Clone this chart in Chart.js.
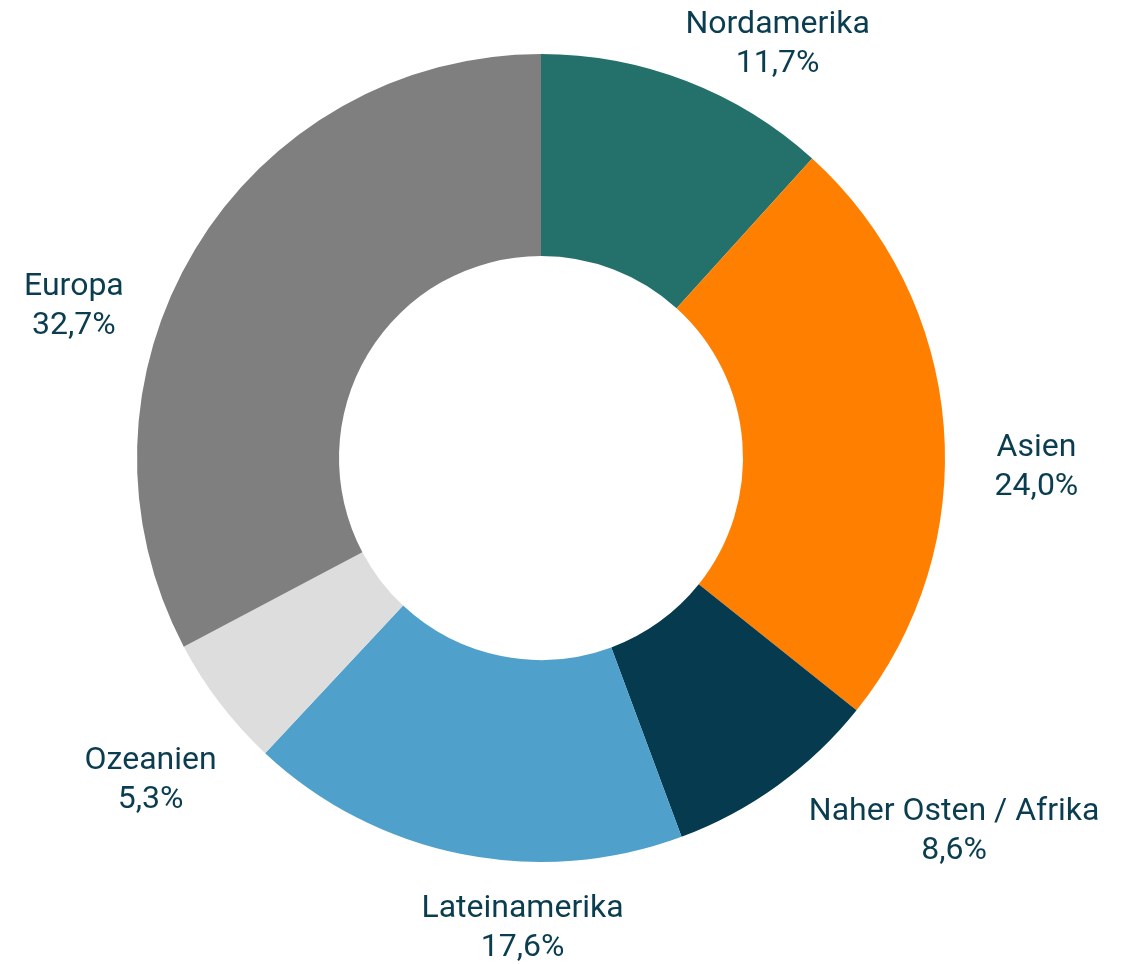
<!DOCTYPE html>
<html lang="de">
<head>
<meta charset="utf-8">
<script src="https://cdn.jsdelivr.net/npm/chart.js@4"></script>
<style>
  html, body { margin: 0; padding: 0; background: #fff; }
  #wrap { width: 1130px; height: 964px; position: relative; }
</style>
</head>
<body>
<div id="wrap"><canvas id="regionChart"></canvas></div>
<script>
// Anteile nach Regionen
const regions = ["Nordamerika", "Asien", "Naher Osten / Afrika", "Lateinamerika", "Ozeanien", "Europa"];
const shares = [11.7, 24.0, 8.6, 17.6, 5.3, 32.7];
const colors = ["#24716b", "#ff8000", "#053a4f", "#4fa0cb", "#dddddd", "#7f7f7f"];

// label placement: point on mid angle + small nudge (px)
const labelRadius = 480;
const labelNudge = [[64, 35], [17, 48], [132, -15], [76, 0], [-9, 32], [-56, 97]];

const fmt = (v) => v.toFixed(1).replace(".", ",") + "%";

const outsideLabels = {
  id: "outsideLabels",
  afterDatasetsDraw(chart) {
    const c = chart.ctx;
    const arcs = chart.getDatasetMeta(0).data;
    c.save();
    c.font = "32px Roboto";
    c.fillStyle = "#0b3d50";
    c.textAlign = "center";
    c.textBaseline = "middle";
    arcs.forEach((arc, i) => {
      const mid = (arc.startAngle + arc.endAngle) / 2;
      const x = arc.x + Math.cos(mid) * labelRadius + labelNudge[i][0];
      const y = arc.y + Math.sin(mid) * labelRadius + labelNudge[i][1];
      c.fillText(regions[i], x, y - 20);
      c.fillText(fmt(shares[i]), x, y + 19);
    });
    c.restore();
  },
};

const ctx = document.getElementById("regionChart");
new Chart(ctx, {
  type: "doughnut",
  data: {
    labels: regions,
    datasets: [
      {
        data: shares,
        backgroundColor: colors,
        borderWidth: 0,
      },
    ],
  },
  options: {
    responsive: true,
    maintainAspectRatio: false,
    animation: false,
    cutout: "50%",
    layout: { padding: { top: 54, bottom: 102, left: 137, right: 185 } },
    plugins: { legend: { display: false }, tooltip: { enabled: false } },
  },
  plugins: [outsideLabels],
});
</script>
</body>
</html>
